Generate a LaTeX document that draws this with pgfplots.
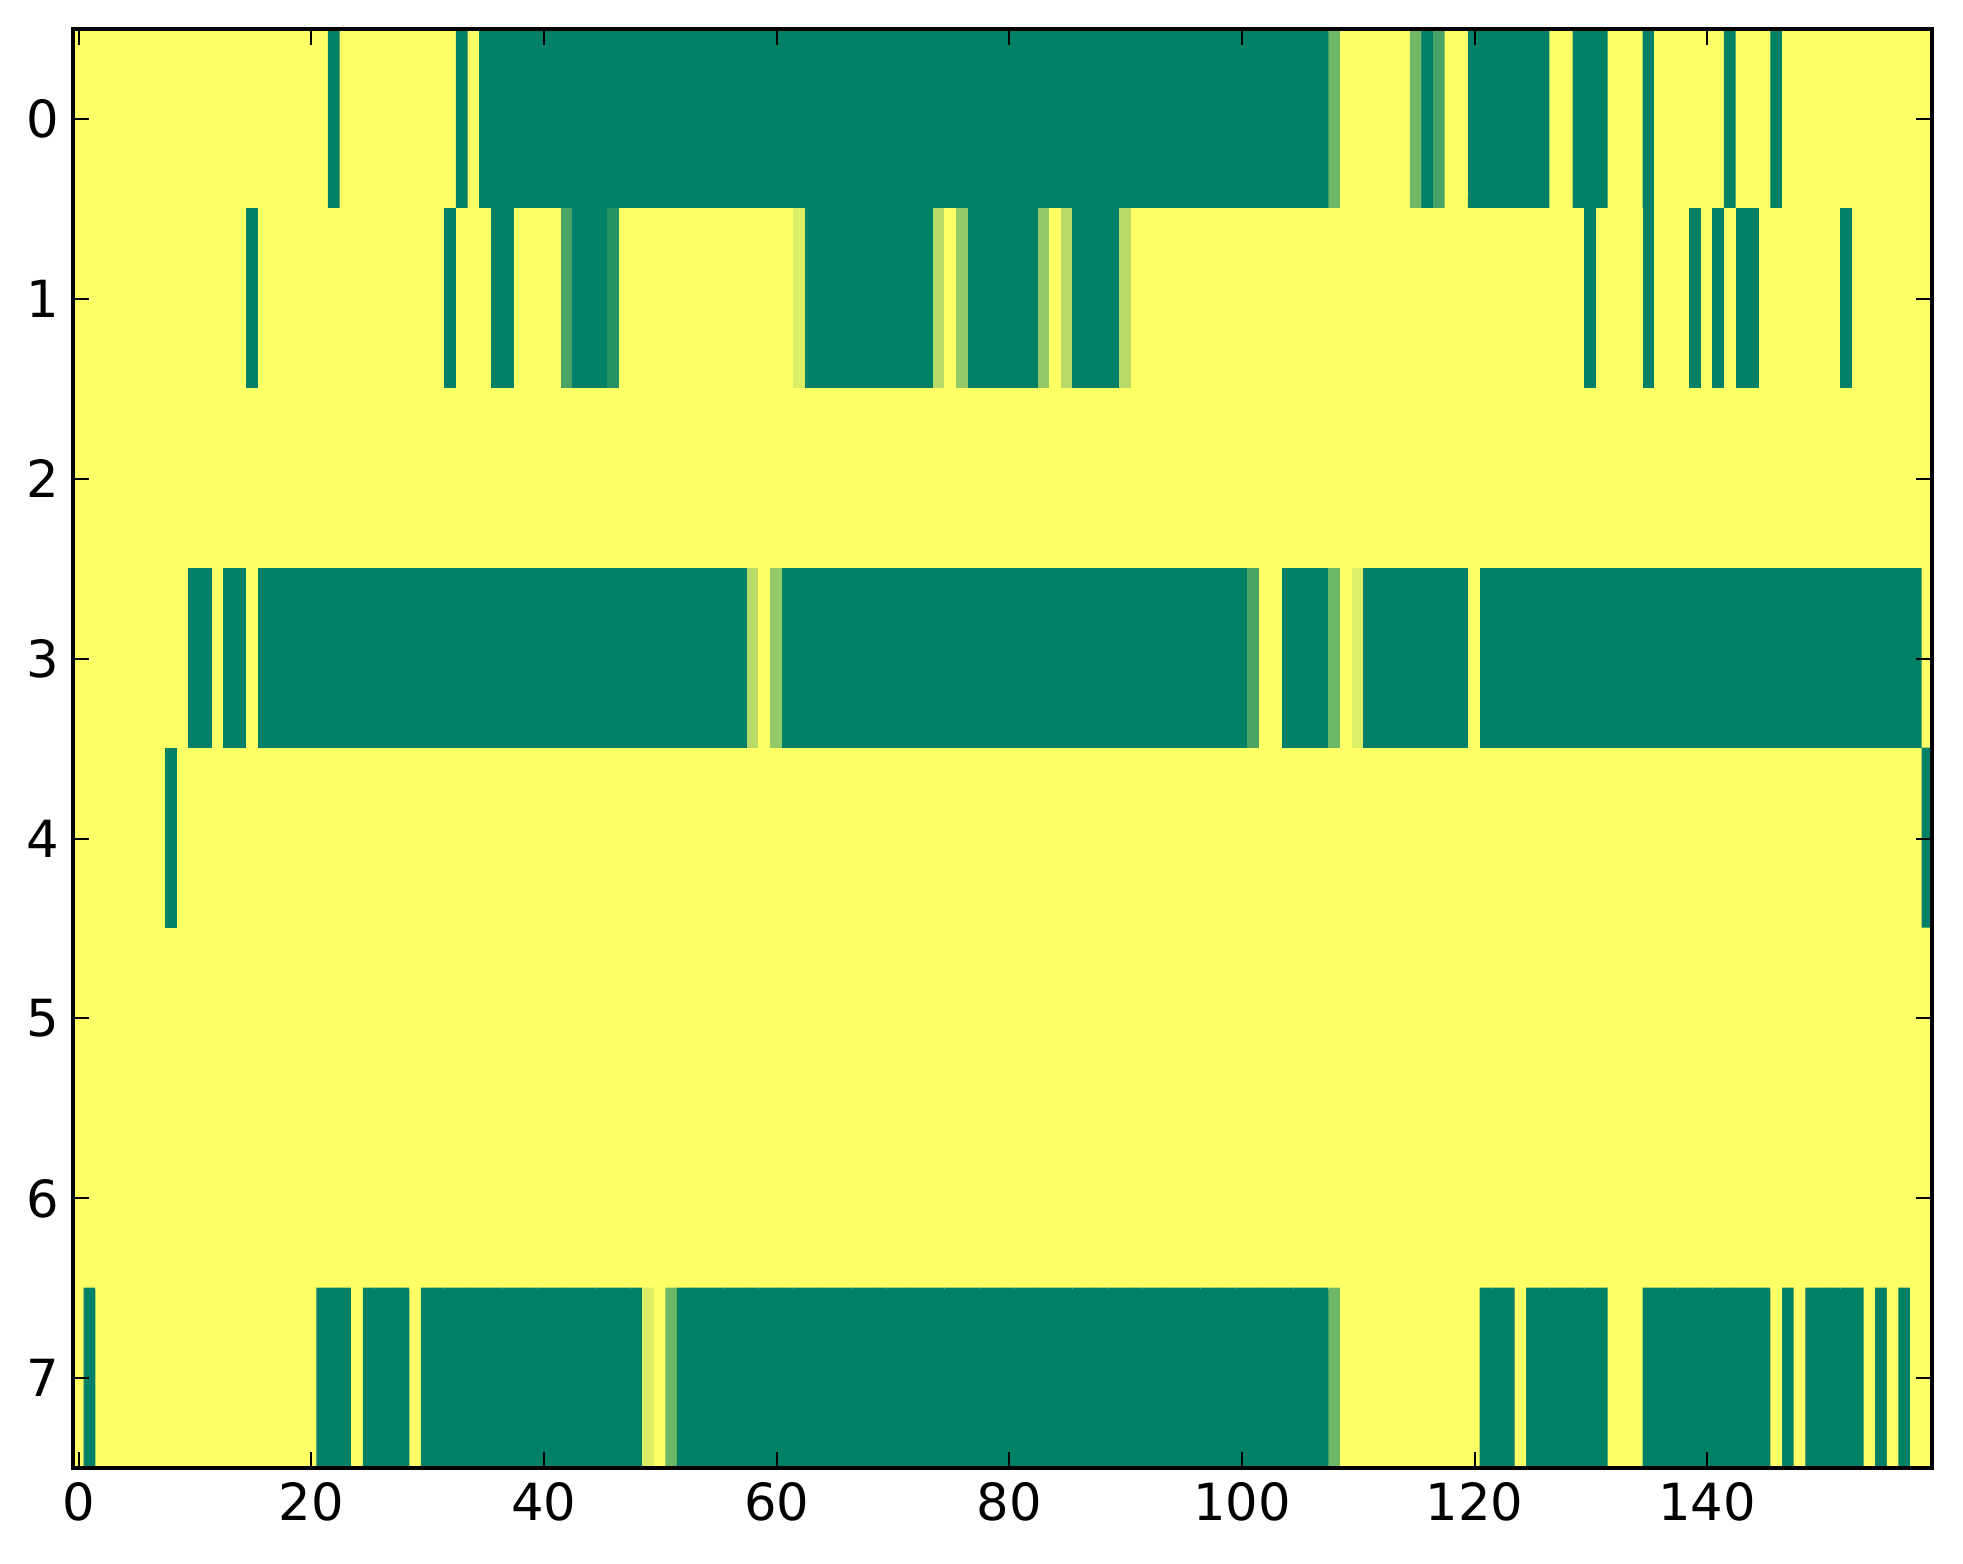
\documentclass[border=0pt]{standalone}
\usepackage{fontspec}
\setmainfont{DejaVu Sans}
\usepackage{pgfplots}
\usepackage{pgfplotstable}
\pgfplotsset{compat=1.18}

% 8 x 160 cells, one value per row of the table, row 0 first, 20 cells per line
\pgfplotstableread[row sep=\\, header=false]{
7\\7\\7\\7\\7\\7\\7\\7\\7\\7\\7\\7\\7\\7\\7\\7\\7\\7\\7\\7\\
7\\7\\0\\7\\7\\7\\7\\7\\7\\7\\7\\7\\7\\0\\7\\0\\0\\0\\0\\0\\
0\\0\\0\\0\\0\\0\\0\\0\\0\\0\\0\\0\\0\\0\\0\\0\\0\\0\\0\\0\\
0\\0\\0\\0\\0\\0\\0\\0\\0\\0\\0\\0\\0\\0\\0\\0\\0\\0\\0\\0\\
0\\0\\0\\0\\0\\0\\0\\0\\0\\0\\0\\0\\0\\0\\0\\0\\0\\0\\0\\0\\
0\\0\\0\\0\\0\\0\\0\\0\\3\\7\\7\\7\\7\\7\\7\\3\\0\\2\\7\\7\\
0\\0\\0\\0\\0\\0\\0\\7\\7\\0\\0\\0\\7\\7\\7\\0\\7\\7\\7\\7\\
7\\7\\0\\7\\7\\7\\0\\7\\7\\7\\7\\7\\7\\7\\7\\7\\7\\7\\7\\7\\
7\\7\\7\\7\\7\\7\\7\\7\\7\\7\\7\\7\\7\\7\\7\\0\\7\\7\\7\\7\\
7\\7\\7\\7\\7\\7\\7\\7\\7\\7\\7\\7\\0\\7\\7\\7\\0\\0\\7\\7\\
7\\7\\2\\0\\0\\0\\1\\7\\7\\7\\7\\7\\7\\7\\7\\7\\7\\7\\7\\7\\
7\\7\\6\\0\\0\\0\\0\\0\\0\\0\\0\\0\\0\\0\\5\\7\\4\\0\\0\\0\\
0\\0\\0\\4\\7\\5\\0\\0\\0\\0\\5\\7\\7\\7\\7\\7\\7\\7\\7\\7\\
7\\7\\7\\7\\7\\7\\7\\7\\7\\7\\7\\7\\7\\7\\7\\7\\7\\7\\7\\7\\
7\\7\\7\\7\\7\\7\\7\\7\\7\\7\\0\\7\\7\\7\\7\\0\\7\\7\\7\\0\\
7\\0\\7\\0\\0\\7\\7\\7\\7\\7\\7\\7\\0\\7\\7\\7\\7\\7\\7\\7\\
7\\7\\7\\7\\7\\7\\7\\7\\7\\7\\7\\7\\7\\7\\7\\7\\7\\7\\7\\7\\
7\\7\\7\\7\\7\\7\\7\\7\\7\\7\\7\\7\\7\\7\\7\\7\\7\\7\\7\\7\\
7\\7\\7\\7\\7\\7\\7\\7\\7\\7\\7\\7\\7\\7\\7\\7\\7\\7\\7\\7\\
7\\7\\7\\7\\7\\7\\7\\7\\7\\7\\7\\7\\7\\7\\7\\7\\7\\7\\7\\7\\
7\\7\\7\\7\\7\\7\\7\\7\\7\\7\\7\\7\\7\\7\\7\\7\\7\\7\\7\\7\\
7\\7\\7\\7\\7\\7\\7\\7\\7\\7\\7\\7\\7\\7\\7\\7\\7\\7\\7\\7\\
7\\7\\7\\7\\7\\7\\7\\7\\7\\7\\7\\7\\7\\7\\7\\7\\7\\7\\7\\7\\
7\\7\\7\\7\\7\\7\\7\\7\\7\\7\\7\\7\\7\\7\\7\\7\\7\\7\\7\\7\\
7\\7\\7\\7\\7\\7\\7\\7\\7\\7\\0\\0\\7\\0\\0\\7\\0\\0\\0\\0\\
0\\0\\0\\0\\0\\0\\0\\0\\0\\0\\0\\0\\0\\0\\0\\0\\0\\0\\0\\0\\
0\\0\\0\\0\\0\\0\\0\\0\\0\\0\\0\\0\\0\\0\\0\\0\\0\\0\\5\\7\\
4\\0\\0\\0\\0\\0\\0\\0\\0\\0\\0\\0\\0\\0\\0\\0\\0\\0\\0\\0\\
0\\0\\0\\0\\0\\0\\0\\0\\0\\0\\0\\0\\0\\0\\0\\0\\0\\0\\0\\0\\
0\\2\\7\\7\\0\\0\\0\\0\\3\\7\\6\\0\\0\\0\\0\\0\\0\\0\\0\\0\\
7\\0\\0\\0\\0\\0\\0\\0\\0\\0\\0\\0\\0\\0\\0\\0\\0\\0\\0\\0\\
0\\0\\0\\0\\0\\0\\0\\0\\0\\0\\0\\0\\0\\0\\0\\0\\0\\0\\0\\7\\
7\\7\\7\\7\\7\\7\\7\\7\\0\\7\\7\\7\\7\\7\\7\\7\\7\\7\\7\\7\\
7\\7\\7\\7\\7\\7\\7\\7\\7\\7\\7\\7\\7\\7\\7\\7\\7\\7\\7\\7\\
7\\7\\7\\7\\7\\7\\7\\7\\7\\7\\7\\7\\7\\7\\7\\7\\7\\7\\7\\7\\
7\\7\\7\\7\\7\\7\\7\\7\\7\\7\\7\\7\\7\\7\\7\\7\\7\\7\\7\\7\\
7\\7\\7\\7\\7\\7\\7\\7\\7\\7\\7\\7\\7\\7\\7\\7\\7\\7\\7\\7\\
7\\7\\7\\7\\7\\7\\7\\7\\7\\7\\7\\7\\7\\7\\7\\7\\7\\7\\7\\7\\
7\\7\\7\\7\\7\\7\\7\\7\\7\\7\\7\\7\\7\\7\\7\\7\\7\\7\\7\\7\\
7\\7\\7\\7\\7\\7\\7\\7\\7\\7\\7\\7\\7\\7\\7\\7\\7\\7\\7\\0\\
7\\7\\7\\7\\7\\7\\7\\7\\7\\7\\7\\7\\7\\7\\7\\7\\7\\7\\7\\7\\
7\\7\\7\\7\\7\\7\\7\\7\\7\\7\\7\\7\\7\\7\\7\\7\\7\\7\\7\\7\\
7\\7\\7\\7\\7\\7\\7\\7\\7\\7\\7\\7\\7\\7\\7\\7\\7\\7\\7\\7\\
7\\7\\7\\7\\7\\7\\7\\7\\7\\7\\7\\7\\7\\7\\7\\7\\7\\7\\7\\7\\
7\\7\\7\\7\\7\\7\\7\\7\\7\\7\\7\\7\\7\\7\\7\\7\\7\\7\\7\\7\\
7\\7\\7\\7\\7\\7\\7\\7\\7\\7\\7\\7\\7\\7\\7\\7\\7\\7\\7\\7\\
7\\7\\7\\7\\7\\7\\7\\7\\7\\7\\7\\7\\7\\7\\7\\7\\7\\7\\7\\7\\
7\\7\\7\\7\\7\\7\\7\\7\\7\\7\\7\\7\\7\\7\\7\\7\\7\\7\\7\\7\\
7\\7\\7\\7\\7\\7\\7\\7\\7\\7\\7\\7\\7\\7\\7\\7\\7\\7\\7\\7\\
7\\7\\7\\7\\7\\7\\7\\7\\7\\7\\7\\7\\7\\7\\7\\7\\7\\7\\7\\7\\
7\\7\\7\\7\\7\\7\\7\\7\\7\\7\\7\\7\\7\\7\\7\\7\\7\\7\\7\\7\\
7\\7\\7\\7\\7\\7\\7\\7\\7\\7\\7\\7\\7\\7\\7\\7\\7\\7\\7\\7\\
7\\7\\7\\7\\7\\7\\7\\7\\7\\7\\7\\7\\7\\7\\7\\7\\7\\7\\7\\7\\
7\\7\\7\\7\\7\\7\\7\\7\\7\\7\\7\\7\\7\\7\\7\\7\\7\\7\\7\\7\\
7\\7\\7\\7\\7\\7\\7\\7\\7\\7\\7\\7\\7\\7\\7\\7\\7\\7\\7\\7\\
7\\7\\7\\7\\7\\7\\7\\7\\7\\7\\7\\7\\7\\7\\7\\7\\7\\7\\7\\7\\
7\\0\\7\\7\\7\\7\\7\\7\\7\\7\\7\\7\\7\\7\\7\\7\\7\\7\\7\\7\\
7\\0\\0\\0\\7\\0\\0\\0\\0\\7\\0\\0\\0\\0\\0\\0\\0\\0\\0\\0\\
0\\0\\0\\0\\0\\0\\0\\0\\0\\6\\7\\3\\0\\0\\0\\0\\0\\0\\0\\0\\
0\\0\\0\\0\\0\\0\\0\\0\\0\\0\\0\\0\\0\\0\\0\\0\\0\\0\\0\\0\\
0\\0\\0\\0\\0\\0\\0\\0\\0\\0\\0\\0\\0\\0\\0\\0\\0\\0\\0\\0\\
0\\0\\0\\0\\0\\0\\0\\0\\3\\7\\7\\7\\7\\7\\7\\7\\7\\7\\7\\7\\
7\\0\\0\\0\\7\\0\\0\\0\\0\\0\\0\\0\\7\\7\\7\\0\\0\\0\\0\\0\\
0\\0\\0\\0\\0\\0\\7\\0\\7\\0\\0\\0\\0\\0\\7\\0\\7\\0\\7\\7\\
}\cells

\begin{document}
\begin{tikzpicture}
\begin{axis}[
    at={(0,0)}, anchor=south west,
    scale only axis,
    width=464.8pt, height=359.9pt,
    xmin=-0.5, xmax=159.3,
    ymin=-0.5, ymax=7.5,
    y dir=reverse,
    xtick={0,20,...,140},
    ytick={0,...,7},
    tick align=inside,
    major tick length=4pt,
    tick style={black, line width=0.5pt},
    axis line style={line width=1pt},
    ticklabel style={font=\fontsize{12.8}{15}\selectfont},
    /pgf/number format/assume math mode=true,
    colormap={summer}{rgb=(0,0.5,0.4) rgb=(1,1,0.4)},
    point meta min=0, point meta max=7,
    axis on top,
]
\addplot[matrix plot*, mesh/cols=160, point meta=explicit]
    table[x index=0, y index=0, meta index=0,
          x expr={mod(\coordindex,160)},
          y expr={floor((\coordindex+0.5)/160)}] {\cells};
\end{axis}
\path[use as bounding box] (-18.2pt,-23.9pt) rectangle (472.6pt,367.1pt);
\end{tikzpicture}
\end{document}
